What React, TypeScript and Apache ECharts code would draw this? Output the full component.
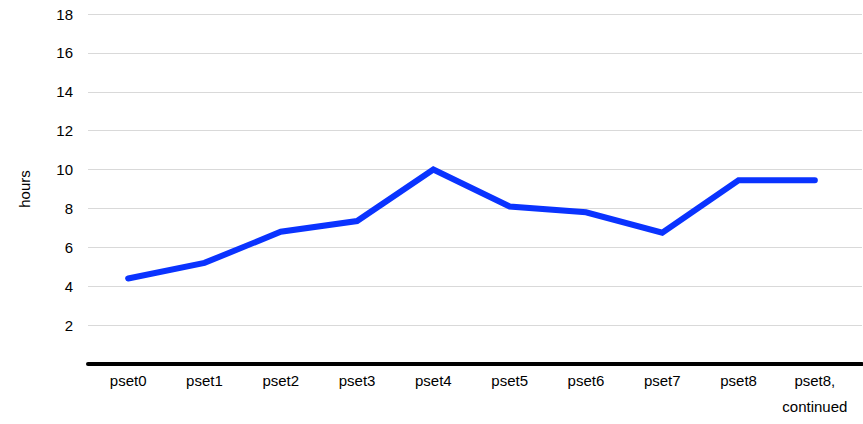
import React, { useEffect, useRef } from "react";
import * as echarts from "echarts";

const categories = ["pset0", "pset1", "pset2", "pset3", "pset4", "pset5", "pset6", "pset7", "pset8", "pset8,\ncontinued"];
const hours = [4.4, 5.2, 6.8, 7.35, 10, 8.1, 7.8, 6.75, 9.45, 9.45];
const yTicks = { min: 0, max: 18, interval: 2 };

const FONT = "Liberation Sans, Arial, Helvetica, sans-serif";

export default function App() {
  const ref = useRef<HTMLDivElement>(null);
  useEffect(() => {
    const chart = echarts.init(ref.current!, null, { renderer: "svg" });
    chart.setOption({
      animation: false,
      grid: [
        { left: 88, right: 1, top: 14, bottom: 60 },
        { left: 90, right: 10, top: 14, bottom: 60 },
      ],
      xAxis: [
        {
          type: "category",
          gridIndex: 0,
          data: categories,
          axisLine: { lineStyle: { color: "#000", width: 4, cap: "round" } },
          axisTick: { show: false },
          axisLabel: { show: false },
        },
        {
          type: "category",
          gridIndex: 1,
          data: categories,
          boundaryGap: true,
          axisLine: { show: false },
          axisTick: { show: false },
          axisLabel: {
            color: "#000",
            fontSize: 15,
            fontFamily: FONT,
            margin: 3,
            lineHeight: 26,
            interval: 0,
          },
        },
      ],
      yAxis: [
        {
          type: "value",
          gridIndex: 0,
          min: yTicks.min,
          max: yTicks.max,
          interval: yTicks.interval,
          name: "hours",
          nameLocation: "middle",
          nameRotate: 90,
          nameGap: 56,
          nameTextStyle: { color: "#000", fontSize: 15, fontFamily: FONT },
          axisLine: { show: false },
          axisTick: { show: false },
          axisLabel: {
            color: "#000",
            fontSize: 15,
            fontFamily: FONT,
            margin: 15,
            formatter: (v: number) => (v === 0 ? "" : String(v)),
          },
          splitLine: { lineStyle: { color: "#d9d9d9", width: 1 } },
        },
        {
          type: "value",
          gridIndex: 1,
          min: yTicks.min,
          max: yTicks.max,
          interval: yTicks.interval,
          show: false,
        },
      ],
      series: [
        {
          type: "line",
          xAxisIndex: 1,
          yAxisIndex: 1,
          data: hours,
          symbol: "none",
          lineStyle: { color: "#0a33ff", width: 6, cap: "round", join: "miter" },
        },
      ],
    });
    return () => chart.dispose();
  }, []);
  return <div ref={ref} style={{ position: "fixed", left: 0, top: 0, width: 863, height: 424, background: "#fff" }} />;
}
